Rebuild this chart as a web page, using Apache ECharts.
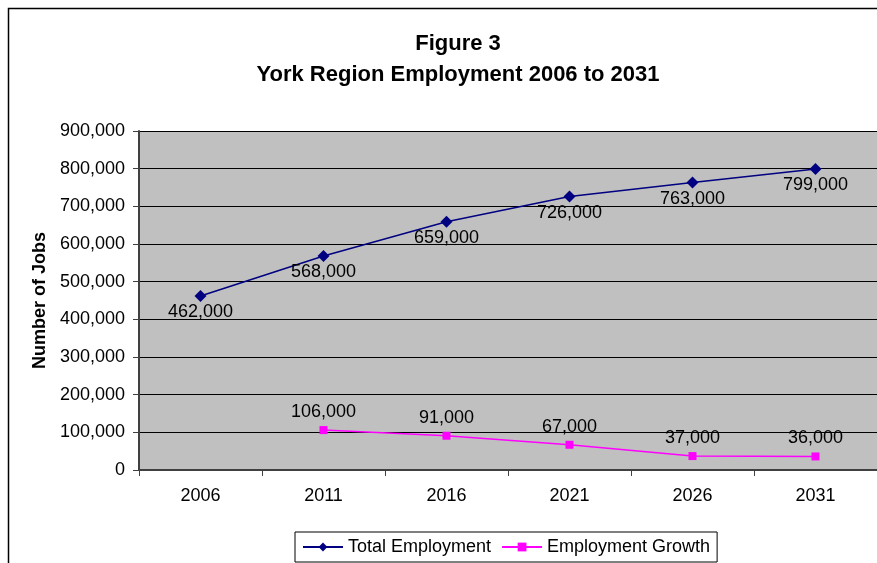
<!DOCTYPE html>
<html>
<head>
<meta charset="utf-8">
<script src="https://cdn.jsdelivr.net/npm/echarts@6/dist/echarts.min.js"></script>
<style>
  html, body { margin: 0; padding: 0; background: #fff; }
  #chart { width: 877px; height: 563px; }
</style>
</head>
<body>
<div id="chart"></div>
<script>
// 数据
const years = ['2006', '2011', '2016', '2021', '2026', '2031'];
const totalEmployment = [462000, 568000, 659000, 726000, 763000, 799000];
const employmentGrowth = [null, 106000, 91000, 67000, 37000, 36000];

const fmt = v => v.toLocaleString('en-US');
const FONT = 'Arial, "Liberation Sans", sans-serif';

const chart = echarts.init(document.getElementById('chart'));

chart.setOption({
    animation: false,
    textStyle: { fontFamily: FONT },
    title: {
        text: 'Figure 3\nYork Region Employment 2006 to 2031',
        left: 453, top: 23, textAlign: 'center',
        textStyle: { fontSize: 22, fontWeight: 'bold', color: '#000', lineHeight: 31, fontFamily: FONT }
    },
    // 外框
    graphic: [
        { type: 'rect', left: 6, top: 6, z: -1,
          shape: { width: 900, height: 600 },
          style: { fill: 'none', stroke: '#000', lineWidth: 1.5 } }
    ],
    legend: {
        bottom: 1, left: 295,
        itemWidth: 40, itemHeight: 11, itemGap: 10,
        padding: [6, 7],
        borderColor: '#000', borderWidth: 1,
        textStyle: { fontSize: 18, color: '#000', fontFamily: FONT },
        data: ['Total Employment', 'Employment Growth']
    },
    grid: { left: 139, right: 0, top: 131, bottom: 93, backgroundColor: '#C0C0C0', show: true, borderWidth: 0 },
    xAxis: {
        type: 'category', data: years, boundaryGap: true,
        axisLine: { lineStyle: { color: '#404040', width: 2 } },
        axisTick: { show: true, length: 6, lineStyle: { color: '#404040' } },
        axisLabel: { fontSize: 18, color: '#000', margin: 17, fontFamily: FONT }
    },
    yAxis: {
        type: 'value', min: 0, max: 900000, interval: 100000,
        name: 'Number of Jobs', nameLocation: 'middle', nameGap: 88,
        nameTextStyle: { fontSize: 18, fontWeight: 'bold', color: '#000', fontFamily: FONT },
        axisLine: { show: true, lineStyle: { color: '#404040', width: 2 } },
        axisTick: { show: true, length: 6, lineStyle: { color: '#404040' } },
        axisLabel: { fontSize: 18, color: '#000', margin: 14, formatter: fmt, fontFamily: FONT },
        splitLine: { lineStyle: { color: '#000', width: 1 } }
    },
    series: [
        {
            name: 'Total Employment', type: 'line', data: totalEmployment,
            symbol: 'diamond', symbolSize: 12,
            itemStyle: { color: '#000080' }, lineStyle: { color: '#000080', width: 1.5 },
            label: { show: true, position: 'bottom', distance: 1, fontSize: 18, color: '#000',
                     formatter: p => fmt(p.value), fontFamily: FONT }
        },
        {
            name: 'Employment Growth', type: 'line', data: employmentGrowth,
            symbol: 'rect', symbolSize: 8,
            itemStyle: { color: '#FF00FF' }, lineStyle: { color: '#FF00FF', width: 1.5 },
            label: { show: true, position: 'top', distance: 5, fontSize: 18, color: '#000',
                     formatter: p => fmt(p.value), fontFamily: FONT }
        }
    ]
});
</script>
</body>
</html>
